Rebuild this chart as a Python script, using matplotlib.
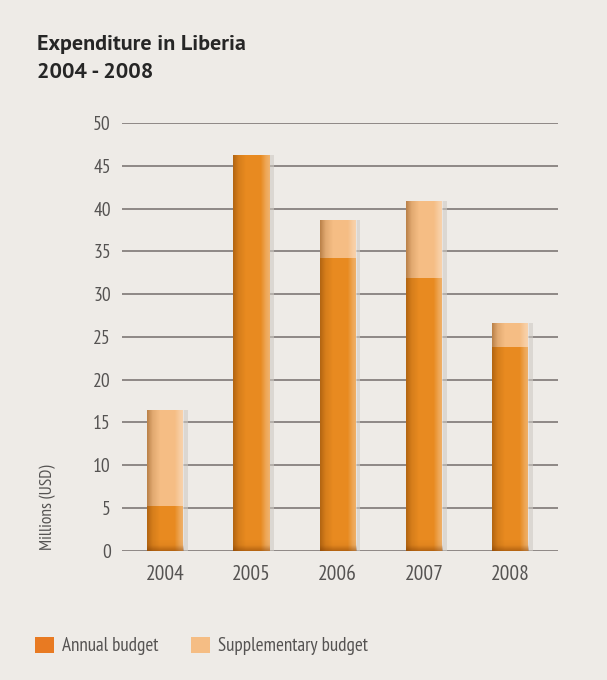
import matplotlib
matplotlib.use("Agg")
import matplotlib.pyplot as plt
import numpy as np
from matplotlib.patches import Patch

# ---------------------------------------------------------------------------
# Data (millions USD)
# ---------------------------------------------------------------------------
years = ["2004", "2005", "2006", "2007", "2008"]
annual = [5.2, 46.3, 34.2, 31.9, 23.8]
supplementary = [11.3, 0.0, 4.5, 9.0, 2.8]
y_ticks = [0, 5, 10, 15, 20, 25, 30, 35, 40, 45, 50]

ANNUAL_COLOR = "#E88A20"
SUPP_COLOR = "#F5BD84"
BG_COLOR = "#EEEBE7"
GRID_COLOR = "#8E8886"
TEXT_COLOR = "#555352"
NARROW = "PT Sans Narrow"

fig = plt.figure(figsize=(6.07, 6.8), dpi=100, facecolor=BG_COLOR)
ax = fig.add_axes([0.201, 0.19, 0.718, 0.629])
ax.set_facecolor(BG_COLOR)

x = np.arange(len(years))
width = 0.42

# gridlines
for t in y_ticks:
    ax.axhline(t, color=GRID_COLOR, lw=1.4, zorder=1)

# soft shadow on the right of each bar
totals = np.array(annual) + np.array(supplementary)
ax.bar(x + 0.05, totals, width, color="#CFCAC4", zorder=2, alpha=0.6)

bars_a = ax.bar(x, annual, width, color=ANNUAL_COLOR, zorder=3)
bars_s = ax.bar(x, supplementary, width, bottom=annual, color=SUPP_COLOR, zorder=3)

# horizontal shading across each bar segment: darker left edge, lighter right edge
grad = np.linspace(0, 1, 64)
dark = np.zeros((1, 64, 4))
dark[..., 0] = 0.45
dark[..., 1] = 0.22
dark[..., 3] = np.interp(grad, [0, 0.15, 0.35, 1.0], [0.45, 0.15, 0.0, 0.0])
light = np.ones((1, 64, 4))
light[..., 3] = np.interp(grad, [0, 0.75, 0.9, 1.0], [0.0, 0.0, 0.25, 0.35])
# darker rounded foot at the base of each bar
foot = np.zeros((64, 1, 4))
foot[..., 0, 0] = 0.45
foot[..., 0, 1] = 0.2
foot[:, 0, 3] = np.interp(grad, [0, 0.5, 1.0], [0.0, 0.05, 0.45])
for patch in list(bars_a) + list(bars_s):
    if patch.get_height() <= 0:
        continue
    x0, y0 = patch.get_x(), patch.get_y()
    w, h = patch.get_width(), patch.get_height()
    for img in (dark, light):
        im = ax.imshow(img, extent=[x0, x0 + w, y0, y0 + h], aspect="auto",
                       zorder=4, interpolation="bilinear")
        im.set_clip_path(patch)
for patch in bars_a:
    x0, w = patch.get_x(), patch.get_width()
    im = ax.imshow(foot, extent=[x0, x0 + w, 0, 1.3], aspect="auto", origin="upper",
                   zorder=4, interpolation="bilinear")
    im.set_clip_path(patch)

ax.set_xlim(-0.5, 4.55)
ax.set_ylim(0, 50)
ax.set_xticks(x)
ax.set_xticklabels(years, fontfamily=NARROW, fontsize=15.5, color=TEXT_COLOR)
ax.set_yticks(y_ticks)
ax.set_yticklabels([str(t) for t in y_ticks], fontfamily=NARROW, fontsize=14, color=TEXT_COLOR)
ax.tick_params(length=0, pad=8)
ax.tick_params(axis="x", pad=10)
for s in ax.spines.values():
    s.set_visible(False)

fig.text(48 / 607, 1 - 507 / 680, "Millions (USD)", rotation=90, ha="center", va="center",
         fontfamily=NARROW, fontsize=12.5, color=TEXT_COLOR)

fig.text(37 / 607, 1 - 44 / 680, "Expenditure in Liberia", ha="left", va="center",
         fontfamily="PT Sans", fontweight="bold", fontsize=15.8, color="#262626")
fig.text(37 / 607, 1 - 73 / 680, "2004 - 2008", ha="left", va="center",
         fontfamily="PT Sans", fontweight="bold", fontsize=15.8, color="#262626")

handles = [Patch(facecolor="#E87A22", label="Annual budget"),
           Patch(facecolor=SUPP_COLOR, label="Supplementary budget")]
leg = fig.legend(handles=handles, loc="center left", bbox_to_anchor=(0.030, 1 - 646 / 680),
                 ncol=2, frameon=False, handlelength=0.95, handleheight=0.95,
                 handletextpad=0.45, columnspacing=1.7,
                 prop={"family": NARROW, "size": 13.8})
for t in leg.get_texts():
    t.set_color(TEXT_COLOR)

fig.savefig("out.png", dpi=100, facecolor=BG_COLOR)
